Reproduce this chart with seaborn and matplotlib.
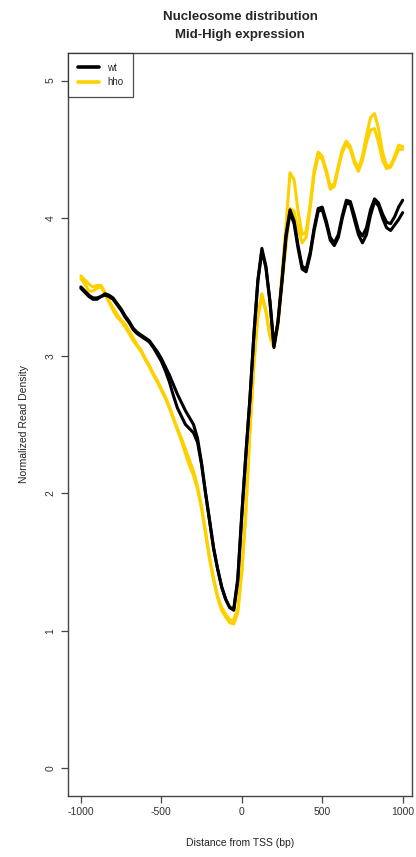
import numpy as np
import pandas as pd
import matplotlib
matplotlib.use("Agg")
import matplotlib.pyplot as plt
import seaborn as sns
from matplotlib.lines import Line2D

# ---- data ----
positions = list(range(-1000, 1001, 25))

wt_rep1 = [3.50, 3.47, 3.44, 3.42, 3.42, 3.43, 3.45, 3.44, 3.42, 3.38,
           3.34, 3.29, 3.25, 3.20, 3.17, 3.15, 3.13, 3.11, 3.07, 3.03,
           2.98, 2.92, 2.86, 2.79, 2.72, 2.66, 2.60, 2.55, 2.50, 2.40,
           2.22, 2.00, 1.80, 1.60, 1.45, 1.32, 1.23, 1.17, 1.16, 1.38,
           1.85, 2.28, 2.68, 3.15, 3.55, 3.78, 3.65, 3.40, 3.07, 3.25,
           3.55, 3.88, 4.06, 3.98, 3.80, 3.65, 3.63, 3.75, 3.93, 4.07,
           4.08, 3.98, 3.86, 3.82, 3.88, 4.02, 4.13, 4.12, 4.02, 3.91,
           3.87, 3.93, 4.06, 4.14, 4.11, 4.03, 3.97, 3.96, 4.01, 4.08,
           4.13]

wt_rep2 = [3.49, 3.46, 3.43, 3.41, 3.41, 3.43, 3.44, 3.43, 3.41, 3.37,
           3.33, 3.28, 3.24, 3.19, 3.16, 3.14, 3.12, 3.10, 3.06, 3.01,
           2.96, 2.89, 2.81, 2.71, 2.62, 2.56, 2.50, 2.47, 2.44, 2.37,
           2.21, 2.00, 1.80, 1.60, 1.45, 1.32, 1.23, 1.17, 1.15, 1.36,
           1.83, 2.27, 2.67, 3.14, 3.54, 3.76, 3.64, 3.39, 3.06, 3.24,
           3.54, 3.86, 4.04, 3.96, 3.78, 3.63, 3.61, 3.73, 3.91, 4.05,
           4.06, 3.96, 3.84, 3.80, 3.86, 4.00, 4.11, 4.10, 3.99, 3.88,
           3.82, 3.88, 4.02, 4.12, 4.09, 4.00, 3.93, 3.91, 3.95, 3.99,
           4.04]

hho_rep1 = [3.58, 3.55, 3.52, 3.50, 3.51, 3.51, 3.46, 3.40, 3.35, 3.30,
            3.26, 3.23, 3.18, 3.13, 3.08, 3.04, 2.98, 2.93, 2.87, 2.82,
            2.76, 2.70, 2.63, 2.55, 2.47, 2.40, 2.32, 2.24, 2.16, 2.05,
            1.90, 1.72, 1.53, 1.38, 1.25, 1.17, 1.12, 1.08, 1.08, 1.16,
            1.45, 1.87, 2.45, 2.95, 3.30, 3.45, 3.33, 3.15, 3.07, 3.25,
            3.60, 3.95, 4.33, 4.28, 4.05, 3.88, 3.90, 4.10, 4.35, 4.48,
            4.45, 4.35, 4.23, 4.25, 4.38, 4.50, 4.56, 4.52, 4.42, 4.36,
            4.45, 4.60, 4.73, 4.76, 4.65, 4.48, 4.38, 4.38, 4.45, 4.53,
            4.52]

hho_rep2 = [3.56, 3.52, 3.47, 3.47, 3.49, 3.50, 3.45, 3.39, 3.33, 3.28,
            3.25, 3.21, 3.16, 3.11, 3.07, 3.03, 2.97, 2.92, 2.86, 2.81,
            2.75, 2.69, 2.62, 2.54, 2.46, 2.38, 2.29, 2.20, 2.13, 2.03,
            1.89, 1.71, 1.52, 1.37, 1.24, 1.15, 1.10, 1.06, 1.05, 1.13,
            1.42, 1.85, 2.43, 2.93, 3.28, 3.43, 3.32, 3.14, 3.06, 3.22,
            3.52, 3.80, 4.07, 4.05, 3.92, 3.82, 3.86, 4.07, 4.32, 4.45,
            4.43, 4.33, 4.21, 4.23, 4.36, 4.48, 4.54, 4.50, 4.40, 4.34,
            4.42, 4.55, 4.64, 4.65, 4.55, 4.42, 4.36, 4.37, 4.43, 4.50,
            4.50]

series_names = ["wt", "hho"]
colors = {"wt": "#000000", "hho": "#FFD000"}

rows = []
for name, rep, vals in [("hho", 1, hho_rep1), ("hho", 2, hho_rep2),
                        ("wt", 1, wt_rep1), ("wt", 2, wt_rep2)]:
    for p, v in zip(positions, vals):
        rows.append({"pos": p, "density": v, "strain": name, "rep": rep})
df = pd.DataFrame(rows)

sns.set_style("white")
plt.rcParams["font.family"] = ["Liberation Sans", "DejaVu Sans"]

fig = plt.figure(figsize=(4.16, 8.57), dpi=100)
ax = fig.add_axes([68 / 416, 1 - 796 / 857, (412 - 68) / 416, (796 - 53) / 857])

for name in ["hho", "wt"]:
    sub = df[df.strain == name]
    sns.lineplot(data=sub, x="pos", y="density", units="rep", estimator=None,
                 color=colors[name], lw=2.2, ax=ax, legend=False,
                 sort=False)

ax.set_xlim(-1080, 1058)
ax.set_ylim(-0.2, 5.2)
ax.set_xticks([-1000, -500, 0, 500, 1000])
ax.set_xticklabels(["-1000", "-500", "0", "500", "1000"])
ax.set_yticks([0, 1, 2, 3, 4, 5])
ax.set_yticklabels(["0", "1", "2", "3", "4", "5"], rotation=90, va="center")
ax.tick_params(axis="both", direction="out", length=5, width=0.9,
               color="#444444", labelsize=7.5, labelcolor="#333333",
               bottom=True, left=True, pad=4)
ax.tick_params(axis="x", pad=3)
for s in ax.spines.values():
    s.set_color("#444444")
    s.set_linewidth(1.0)

ax.set_xlabel("Distance from TSS (bp)", fontsize=7.5, color="#222222", labelpad=15)
ax.set_ylabel("Normalized Read Density", fontsize=7.5, color="#222222", labelpad=12)

fig.text(240 / 416, 1 - 17 / 857, "Nucleosome distribution", ha="center",
         va="center", fontsize=9.5, fontweight="bold")
fig.text(240 / 416, 1 - 35 / 857, "Mid-High expression", ha="center",
         va="center", fontsize=9.5, fontweight="bold")

handles = [Line2D([], [], color=colors["wt"], lw=2.6),
           Line2D([], [], color=colors["hho"], lw=2.6)]
leg = ax.legend(handles, series_names, loc="upper left", bbox_to_anchor=(0, 1),
                borderaxespad=0, frameon=True, fancybox=False, fontsize=7,
                handlelength=2.2, handletextpad=0.8, labelspacing=0.45,
                borderpad=1.0)
leg.get_frame().set_edgecolor("#222222")
leg.get_frame().set_linewidth(0.9)

fig.savefig("out.png", dpi=100)
